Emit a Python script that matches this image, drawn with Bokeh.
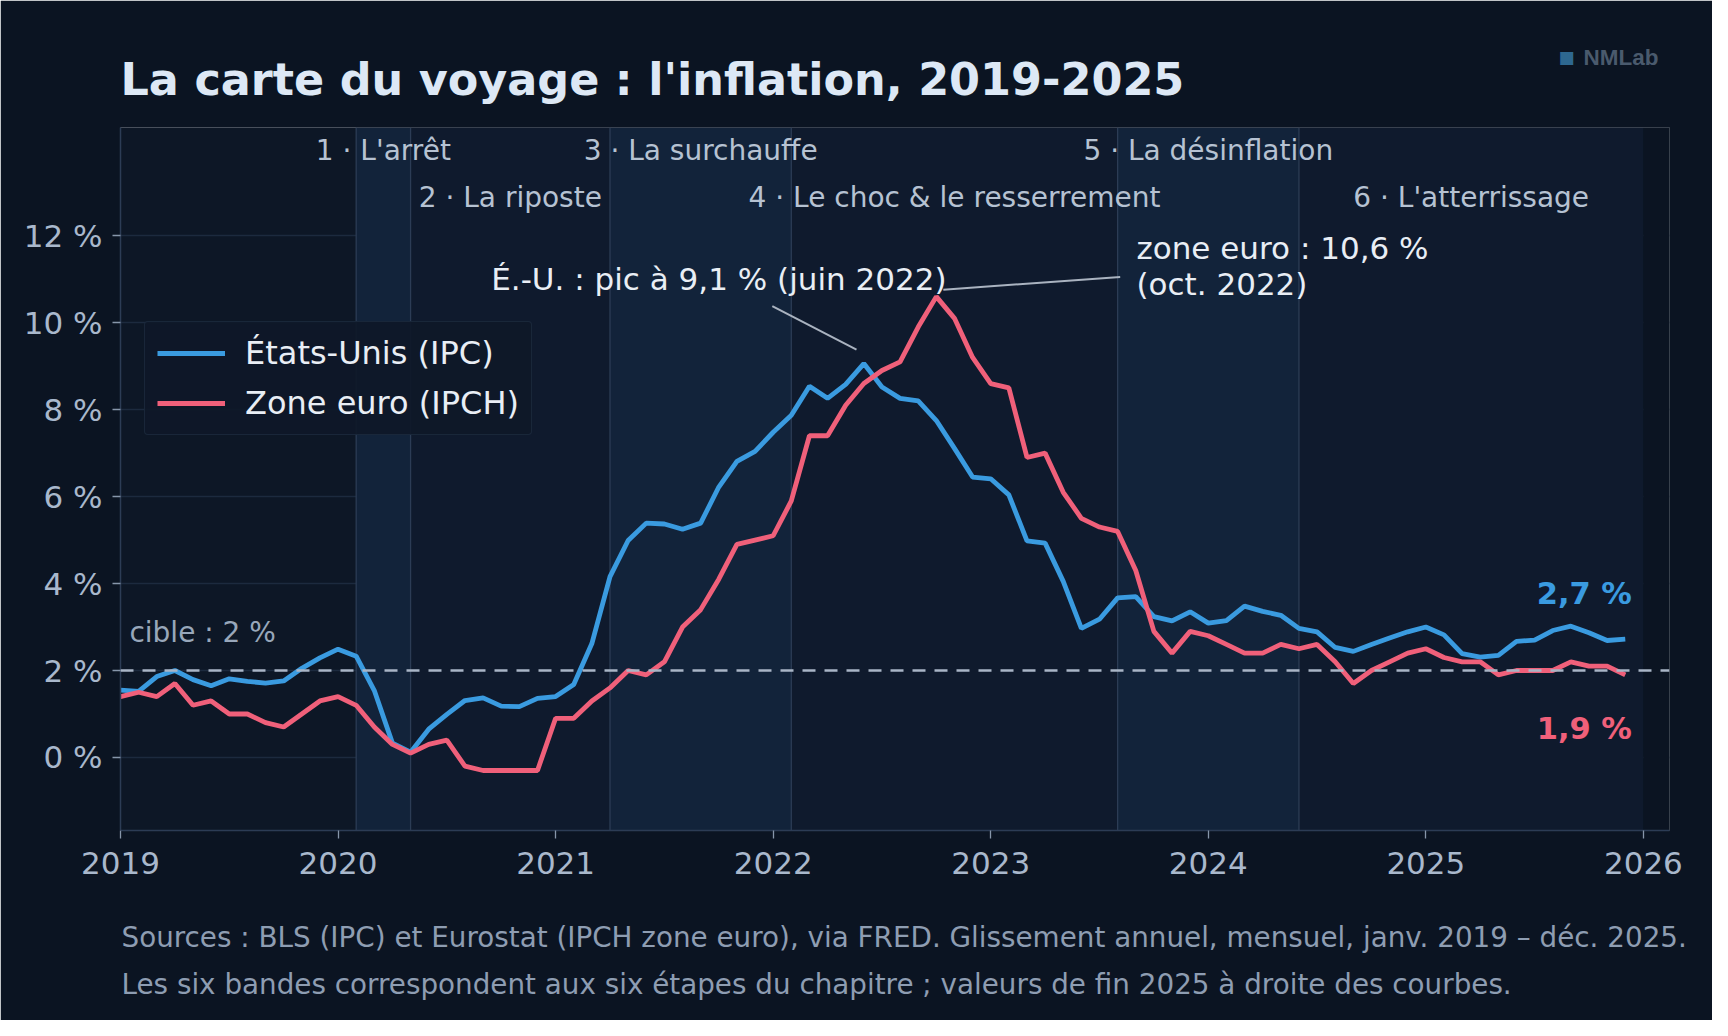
from bokeh.plotting import figure
from bokeh.models import (ColumnDataSource, FixedTicker, Span, BoxAnnotation, Label,
                          Legend, LegendItem)
from bokeh.core.properties import value
from bokeh.embed import file_html
from bokeh.resources import INLINE

# ---------------- data ----------------
start_year = 2019
us_cpi = [
    1.55, 1.52, 1.86, 2.00, 1.79, 1.65, 1.81, 1.75, 1.71, 1.76, 2.05, 2.29,   # 2019
    2.49, 2.33, 1.54, 0.33, 0.12, 0.65, 0.99, 1.31, 1.37, 1.18, 1.17, 1.36,   # 2020
    1.40, 1.68, 2.62, 4.16, 4.99, 5.39, 5.37, 5.25, 5.39, 6.22, 6.81, 7.04,   # 2021
    7.48, 7.87, 8.54, 8.26, 8.58, 9.06, 8.52, 8.26, 8.20, 7.75, 7.11, 6.45,   # 2022
    6.41, 6.04, 4.98, 4.93, 4.05, 2.97, 3.18, 3.67, 3.70, 3.24, 3.14, 3.35,   # 2023
    3.09, 3.15, 3.48, 3.36, 3.27, 2.97, 2.89, 2.53, 2.44, 2.60, 2.75, 2.89,   # 2024
    3.00, 2.82, 2.39, 2.31, 2.35, 2.67, 2.70, 2.92, 3.02, 2.87, 2.69, 2.72,   # 2025
]
ez_hicp = [
    1.4, 1.5, 1.4, 1.7, 1.2, 1.3, 1.0, 1.0, 0.8, 0.7, 1.0, 1.3,               # 2019
    1.4, 1.2, 0.7, 0.3, 0.1, 0.3, 0.4, -0.2, -0.3, -0.3, -0.3, -0.3,          # 2020
    0.9, 0.9, 1.3, 1.6, 2.0, 1.9, 2.2, 3.0, 3.4, 4.1, 4.9, 5.0,               # 2021
    5.1, 5.9, 7.4, 7.4, 8.1, 8.6, 8.9, 9.1, 9.9, 10.6, 10.1, 9.2,             # 2022
    8.6, 8.5, 6.9, 7.0, 6.1, 5.5, 5.3, 5.2, 4.3, 2.9, 2.4, 2.9,               # 2023
    2.8, 2.6, 2.4, 2.4, 2.6, 2.5, 2.6, 2.2, 1.7, 2.0, 2.2, 2.4,               # 2024
    2.5, 2.3, 2.2, 2.2, 1.9, 2.0, 2.0, 2.0, 2.2, 2.1, 2.1, 1.9,               # 2025
]
x_years = [start_year + i / 12 for i in range(len(us_cpi))]

phase_edges = [2020 + 1/12, 2020 + 4/12, 2021 + 3/12, 2022 + 1/12, 2023 + 7/12, 2024 + 5/12, 2026.0]
phase_labels = ["1 · L'arrêt", "2 · La riposte", "3 · La surchauffe",
                "4 · Le choc & le resserrement", "5 · La désinflation", "6 · L'atterrissage"]
phase_label_y = [13.97, 12.87]

x_ticks = [2019, 2020, 2021, 2022, 2023, 2024, 2025, 2026]
y_ticks = [0, 2, 4, 6, 8, 10, 12]
y_tick_labels = {t: f"{t} %" for t in y_ticks}
target = 2.0

title_text = "La carte du voyage : l'inflation, 2019-2025"
footer1 = "Sources : BLS (IPC) et Eurostat (IPCH zone euro), via FRED. Glissement annuel, mensuel, janv. 2019 – déc. 2025."
footer2 = "Les six bandes correspondent aux six étapes du chapitre ; valeurs de fin 2025 à droite des courbes."

# ---------------- styles ----------------
FONT = "DejaVu Sans"
BG = "#0b1422"
PLOT_BG = "#0d1726"
BAND_ODD = "#12233a"
BAND_EVEN = "#0f1a2d"
BLUE = "#3a9be0"
RED = "#f0607a"
GRID = "#1c2a3e"
EDGE = "#2c3c55"
TICK_TXT = "#a9b8cc"

p = figure(width=1712, height=1020, output_backend="svg", toolbar_location=None,
           x_range=(2019.0, 2026.12), y_range=(-1.68, 14.49),
           min_border_left=120, min_border_right=43, min_border_top=127, min_border_bottom=190,
           background_fill_color=PLOT_BG, border_fill_color=BG, outline_line_color=None)

# bands
for i in range(6):
    p.add_layout(BoxAnnotation(left=phase_edges[i], right=phase_edges[i + 1],
                               fill_color=BAND_ODD if i % 2 == 0 else BAND_EVEN,
                               fill_alpha=1.0, line_color=None, level="underlay"))
p.add_layout(BoxAnnotation(left=phase_edges[-1], fill_color=BG, fill_alpha=1.0,
                           line_color=None, level="underlay"))
for e in phase_edges[:-1]:
    p.add_layout(Span(location=e, dimension="height", line_color=EDGE, line_width=1.3,
                      level="underlay"))

# grid / axes
p.xgrid.grid_line_color = None
p.ygrid.grid_line_color = GRID
p.ygrid.grid_line_width = 1.5
p.ygrid.level = "underlay"
p.xaxis.ticker = FixedTicker(ticks=x_ticks)
p.yaxis.ticker = FixedTicker(ticks=y_ticks)
p.yaxis.major_label_overrides = y_tick_labels
for ax in (p.xaxis, p.yaxis):
    ax.axis_line_color = EDGE
    ax.axis_line_width = 1.5
    ax.major_tick_line_color = "#8796aa"
    ax.major_tick_line_width = 1.3
    ax.major_tick_in = 0
    ax.major_tick_out = 8
    ax.minor_tick_line_color = None
    ax.major_label_text_font = FONT
    ax.major_label_text_font_size = "31px"
    ax.major_label_text_color = TICK_TXT
p.yaxis.major_label_standoff = 10
p.xaxis.major_label_standoff = 13

# phase labels
src_ph = ColumnDataSource(dict(
    x=[(phase_edges[i] + phase_edges[i + 1]) / 2 for i in range(6)],
    y=[phase_label_y[i % 2] for i in range(6)],
    t=phase_labels))
p.text(x="x", y="y", text="t", source=src_ph, text_align="center", text_baseline="middle",
       text_font=value(FONT), text_font_size="28px", text_color="#b6c2d2")

# target line
p.add_layout(Span(location=target, dimension="width", line_color="#a9b5c6",
                  line_width=2.5, line_dash="13 9"))
p.text(x=[2019.041], y=[2.87], text=["cible : 2 %"], text_align="left", text_baseline="middle",
       text_font=value(FONT), text_font_size="28px", text_color="#98a7ba")

# series
src = ColumnDataSource(dict(x=x_years, us=us_cpi, ez=ez_hicp))
r_us = p.line("x", "us", source=src, line_color=BLUE, line_width=4.8)
r_ez = p.line("x", "ez", source=src, line_color=RED, line_width=4.8)

# annotations
ANN = "#e9eef5"
p.segment(x0=[2021.996], y0=[10.38], x1=[2022.383], y1=[9.38], line_color="#aab3c0", line_width=2)
p.text(x=[2020.704], y=[11.01], text=["É.-U. : pic à 9,1 % (juin 2022)"], text_align="left",
       text_baseline="middle", text_font=value(FONT), text_font_size="31px", text_color=ANN)
p.segment(x0=[2023.595], y0=[11.05], x1=[2022.782], y1=[10.76], line_color="#aab3c0", line_width=2)
p.text(x=[2023.670, 2023.670], y=[11.72, 10.90], text=["zone euro : 10,6 %", "(oct. 2022)"],
       text_align="left", text_baseline="middle", text_font=value(FONT), text_font_size="31px",
       text_color=ANN)

# end values
p.text(x=[2025.947], y=[3.76], text=[f"{us_cpi[-1]:.1f} %".replace(".", ",")], text_align="right",
       text_baseline="middle", text_font=value(FONT), text_font_size="30.5px",
       text_font_style="bold", text_color=BLUE)
p.text(x=[2025.947], y=[0.66], text=[f"{ez_hicp[-1]:.1f} %".replace(".", ",")], text_align="right",
       text_baseline="middle", text_font=value(FONT), text_font_size="30.5px",
       text_font_style="bold", text_color=RED)

# legend
legend = Legend(items=[LegendItem(label="États-Unis (IPC)", renderers=[r_us]),
                       LegendItem(label="Zone euro (IPCH)", renderers=[r_ez])],
                location=(24, 395), orientation="vertical")
legend.label_text_font = FONT
legend.label_text_font_size = "32px"
legend.label_text_color = ANN
legend.glyph_width = 68
legend.glyph_height = 36
legend.label_height = 36
legend.label_standoff = 20
legend.spacing = 12
legend.padding = 12
legend.margin = 0
legend.background_fill_color = "#0e1828"
legend.background_fill_alpha = 0.92
legend.border_line_color = "#26364b"
legend.border_line_width = 1.5
legend.border_radius = 4
p.add_layout(legend)

# title, watermark (top side panel) and footer (bottom side panel); screen units
def side_label(side, x, y, text, **kw):
    p.add_layout(Label(x=x, y=y, x_units="screen", y_units="screen", text=text,
                       text_baseline="middle", **kw), side)

side_label("above", 0, 48, title_text, text_align="left", text_font=FONT,
           text_font_size="44.5px", text_font_style="bold", text_color="#dde8f5")
side_label("above", 1446, 20, "■", text_align="center", text_font=FONT,
           text_font_size="17px", text_color="#2e6890")
side_label("above", 1463, -1.3, "NMLab", text_align="left", text_font="Liberation Sans",
           text_font_size="22.5px", text_font_style="bold", text_color="#4a5a6d")
side_label("below", 1, -28, footer1, text_align="left", text_font=FONT,
           text_font_size="27.8px", text_color="#8e9db2")
side_label("below", 1, -42, footer2, text_align="left", text_font=FONT,
           text_font_size="27.8px", text_color="#8e9db2")

open("out.html", "w").write(file_html(p, INLINE))
